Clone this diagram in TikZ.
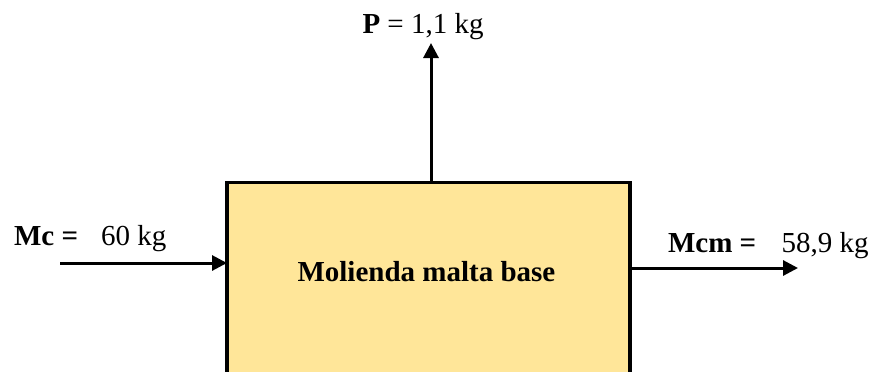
\documentclass[tikz,border=0pt]{standalone}
\usepackage{fontspec}
\setmainfont{Liberation Serif}
\usetikzlibrary{arrows.meta}
\definecolor{boxfill}{HTML}{FFE699}
\begin{document}
\begin{tikzpicture}[x=0.5pt,y=-0.5pt,
  every node/.style={inner sep=0pt,outer sep=0pt,font=\fontsize{14.5}{17}\selectfont},
  procbox/.style={draw=black,line width=1.6pt,fill=boxfill,anchor=north west,minimum width=201.5pt,minimum height=100pt},
  flow/.style={line width=1.5pt,-{Triangle[length=7.5pt,width=7.5pt]}},
  lbl/.style={anchor=base west}]
\useasboundingbox (0,0) rectangle (876,371);
\clip (0,0) rectangle (876,371);
\node[procbox] (box) at (227,182.5) {};
\node[lbl,font=\fontsize{14.5}{17}\selectfont\bfseries] (boxlabel) at (297.5,281.5) {Molienda malta base};
% inflow
\coordinate (mcstart) at (60,263);
\draw[flow] (mcstart) -- (mcstart -| box.west);
\node[lbl] (mclbl) at (14,245) {\textbf{Mc =}};
\node[lbl] (mcval) at (101,245) {60 kg};
% outflow
\coordinate (mcmend) at (798,268);
\draw[flow] (mcmend -| box.east) -- (mcmend);
\node[lbl] (mcmlbl) at (668,252) {\textbf{Mcm =}};
\node[lbl] (mcmval) at (781.5,252) {58,9 kg};
% top outflow
\coordinate (ptip) at (431,43);
\draw[flow] (ptip |- box.north) -- (ptip);
\node[lbl] (plbl) at (362.5,33) {\textbf{P} = 1,1 kg};
\end{tikzpicture}
\end{document}
